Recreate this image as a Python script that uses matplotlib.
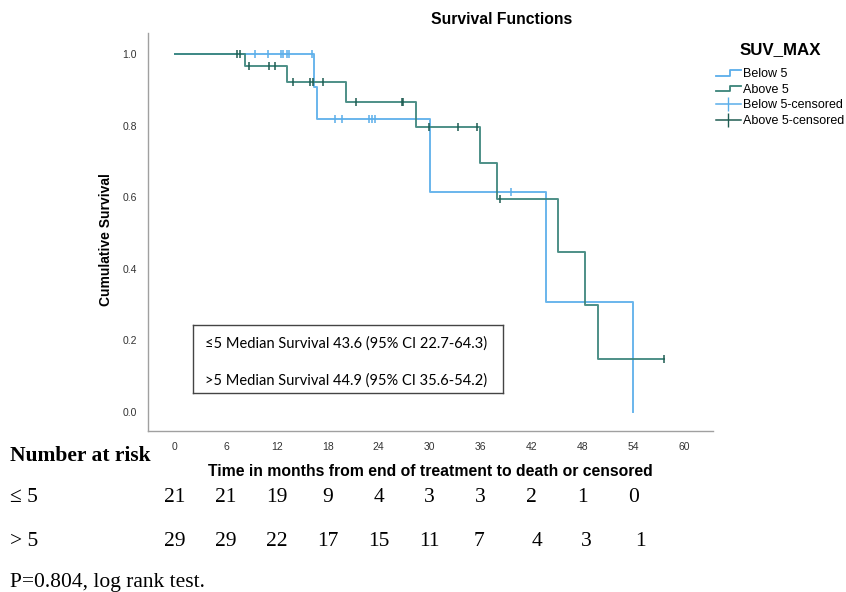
import matplotlib
matplotlib.use('Agg')
import matplotlib.pyplot as plt
from matplotlib.lines import Line2D
from matplotlib.legend_handler import HandlerBase

# Curvas de Kaplan-Meier (meses, supervivencia)
below_t = [0, 16.4, 16.7, 30.0, 43.7, 54.0]
below_s = [1.0, 0.909, 0.818, 0.614, 0.307, 0.0]
above_t = [0, 8.3, 13.2, 20.2, 28.4, 36.0, 38.0, 45.1, 48.3, 49.8, 57.6]
above_s = [1.0, 0.966, 0.922, 0.867, 0.795, 0.696, 0.596, 0.447, 0.298, 0.149, 0.149]

# Casos censurados
below_cens_t = [9.4, 11.0, 12.5, 12.7, 13.2, 13.4, 16.1, 18.9, 19.7, 22.9, 23.2, 23.6, 39.6]
below_cens_s = [1.0, 1.0, 1.0, 1.0, 1.0, 1.0, 1.0, 0.818, 0.818, 0.818, 0.818, 0.818, 0.614]
above_cens_t = [7.3, 7.7, 8.7, 11.1, 11.8, 13.9, 15.9, 16.3, 17.5, 21.3, 26.7, 26.9,
                29.9, 33.4, 35.6, 38.3, 57.6]
above_cens_s = [1.0, 1.0, 0.966, 0.966, 0.966, 0.922, 0.922, 0.922, 0.922, 0.867, 0.867, 0.867,
                0.795, 0.795, 0.795, 0.596, 0.149]

x_ticks = [0, 6, 12, 18, 24, 30, 36, 42, 48, 54, 60]
y_ticks = [0.0, 0.2, 0.4, 0.6, 0.8, 1.0]

# Tabla de número en riesgo
risk_below = [21, 21, 19, 9, 4, 3, 3, 2, 1, 0]
risk_above = [29, 29, 22, 17, 15, 11, 7, 4, 3, 1]
risk_times = [0, 6, 12, 18, 24, 30, 36, 42, 48, 54]

median_lines = ['≤5 Median Survival 43.6 (95% CI 22.7-64.3)',
                '>5 Median Survival 44.9 (95% CI 35.6-54.2)']

BLUE = '#5aaeea'
GREEN = '#3a847a'
GREEN_DARK = '#1f5c52'

plt.rcParams['font.family'] = ['Liberation Sans', 'DejaVu Sans']


# Dibuja el símbolo escalonado de la leyenda
class HandlerStep(HandlerBase):
    def create_artists(self, legend, orig, xd, yd, w, h, fontsize, trans):
        xs = [xd, xd + w * 0.55, xd + w * 0.55, xd + w]
        ys = [yd + h * 0.15, yd + h * 0.15, yd + h * 0.75, yd + h * 0.75]
        ln = Line2D(xs, ys, color=orig.get_color(), lw=1.3, transform=trans)
        return [ln]


fig = plt.figure(figsize=(8.46, 5.92), dpi=100)
ax = fig.add_axes([148/846, 1 - 431/592, (713-148)/846, (431-33)/592])

ax.step(below_t, below_s, where='post', color=BLUE, lw=1.4, alpha=0.9)
ax.step(above_t, above_s, where='post', color=GREEN, lw=1.4, alpha=0.9)
ax.plot(below_cens_t, below_cens_s, ls='none', marker='|', ms=6, mew=1.1, color=BLUE)
ax.plot(above_cens_t, above_cens_s, ls='none', marker='|', ms=6, mew=1.1, color=GREEN_DARK)

ax.set_xlim(-3.18, 63.4)
ax.set_ylim(-0.053, 1.059)
ax.set_xticks(x_ticks)
ax.set_yticks(y_ticks)
ax.set_xticklabels([str(t) for t in x_ticks], fontsize=7.5, color='#333333')
ax.set_yticklabels([f'{v:.1f}' for v in y_ticks], fontsize=7.5, color='#333333')
ax.tick_params(length=0, pad=8)
for s in ['top', 'right']:
    ax.spines[s].set_visible(False)
for s in ['left', 'bottom']:
    ax.spines[s].set_color('#a0a0a0')
    ax.spines[s].set_linewidth(1.0)

ax.set_ylabel('Cumulative Survival', fontsize=10, fontweight='bold')
ax.yaxis.set_label_coords(-0.062, 0.48)
fig.text(430/846, 1 - 472/592, 'Time in months from end of treatment to death or censored',
         fontsize=11.3, fontweight='bold', ha='center', va='center')
fig.text(502/846, 1 - 20/592, 'Survival Functions', fontsize=11.3, fontweight='bold',
         ha='center', va='center')

# Recuadro con medianas
box_ax = fig.add_axes([193/846, 1 - 393/592, (503-193)/846, (393-325)/592])
box_ax.set_xticks([])
box_ax.set_yticks([])
box_ax.patch.set_alpha(0)
for s in box_ax.spines.values():
    s.set_color('#444444')
    s.set_linewidth(1.0)
box_ax.text(0.04, 0.73, median_lines[0], fontsize=10.5, family=['Lato', 'DejaVu Sans'],
            va='center', transform=box_ax.transAxes)
box_ax.text(0.04, 0.19, median_lines[1], fontsize=10.5, family=['Lato', 'DejaVu Sans'],
            va='center', transform=box_ax.transAxes)

# Leyenda
h_below = Line2D([], [], color=BLUE)
h_above = Line2D([], [], color=GREEN)
h_below_c = Line2D([], [], color=BLUE, marker='|', ms=10, lw=1.1)
h_above_c = Line2D([], [], color=GREEN_DARK, marker='|', ms=10, lw=1.1)
leg = fig.legend([h_below, h_above, h_below_c, h_above_c],
                 ['Below 5', 'Above 5', 'Below 5-censored', 'Above 5-censored'],
                 handler_map={h_below: HandlerStep(), h_above: HandlerStep()},
                 loc='upper left', bbox_to_anchor=(707/846, 1 - 33/592), frameon=False,
                 title='SUV_MAX', fontsize=9, handlelength=2.0, handletextpad=0.2,
                 labelspacing=0.3, borderpad=0.2)
leg.get_title().set_fontsize(12.2)
leg.get_title().set_fontweight('bold')
leg._legend_box.sep = 8

# Número en riesgo
serif = ['Liberation Serif', 'DejaVu Serif']
fig.text(10/846, 1 - 456/592, 'Number at risk', fontsize=15.5, fontweight='bold',
         family=serif, va='center')
fig.text(10/846, 1 - 497/592, '≤ 5', fontsize=15.5, family=serif, va='center')
fig.text(10/846, 1 - 541/592, '> 5', fontsize=15.5, family=serif, va='center')
# pequeños desplazamientos horizontales (en meses) de la fila > 5
above_shift = [0, 0, 0, 0, 0, 0, -0.2, 0.7, 0.5, 0.9]
tr = ax.get_xaxis_transform()
for t, n in zip(risk_times, risk_below):
    ax.text(t, (431 - 497) / 398, str(n), transform=tr, fontsize=15.5, family=serif,
            ha='center', va='center', clip_on=False)
for t, n, d in zip(risk_times, risk_above, above_shift):
    ax.text(t + d, (431 - 541) / 398, str(n), transform=tr, fontsize=15.5, family=serif,
            ha='center', va='center', clip_on=False)
fig.text(10/846, 1 - 582/592, 'P=0.804, log rank test.', fontsize=15.5, family=serif,
         va='center')

fig.savefig('out.png', dpi=100)
